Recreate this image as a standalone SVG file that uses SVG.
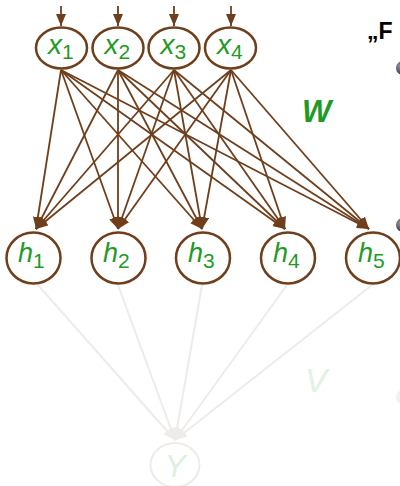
<svg xmlns="http://www.w3.org/2000/svg" width="400" height="486" viewBox="0 0 400 486">
<defs>
<style>
.node ellipse{fill:#fff;stroke:#6f3f1c;stroke-width:2.5}
.lbl{font-family:"Liberation Sans",Arial,sans-serif;fill:#1f9a24;font-style:italic}
.sub{font-style:normal}
.e{stroke:#6f3f1c;stroke-width:1.8;fill:none;marker-end:url(#ah)}
.v{stroke:#efebe8;stroke-width:2;fill:none;marker-end:url(#ahl)}
</style>
<marker id="ah" viewBox="0 0 12 10" refX="12" refY="5" markerWidth="12" markerHeight="10" markerUnits="userSpaceOnUse" orient="auto"><path d="M0,0 L12,5 L0,10 z" fill="#6f3f1c"/></marker>
<marker id="ahl" viewBox="0 0 12 10" refX="12" refY="5" markerWidth="12" markerHeight="10" markerUnits="userSpaceOnUse" orient="auto"><path d="M0,0 L12,5 L0,10 z" fill="#efebe8"/></marker>
<radialGradient id="bul" cx="0.35" cy="0.35" r="0.7"><stop offset="0" stop-color="#9a9aa8"/><stop offset="1" stop-color="#2e2e3c"/></radialGradient>
</defs>
<rect width="400" height="486" fill="#fff"/>
<g id="connectors">
<line class="e" x1="61" y1="6" x2="61" y2="26"/>
<line class="e" x1="118" y1="6" x2="118" y2="26"/>
<line class="e" x1="174" y1="6" x2="174" y2="26"/>
<line class="e" x1="231" y1="6" x2="231" y2="26"/>
<g id="W-edges">
<line class="e" x1="61" y1="70" x2="36" y2="229"/>
<line class="e" x1="61" y1="70" x2="118" y2="229"/>
<line class="e" x1="61" y1="70" x2="202" y2="229"/>
<line class="e" x1="61" y1="70" x2="285" y2="229"/>
<line class="e" x1="61" y1="70" x2="369" y2="229"/>
<line class="e" x1="118" y1="70" x2="36" y2="229"/>
<line class="e" x1="118" y1="70" x2="118" y2="229"/>
<line class="e" x1="118" y1="70" x2="202" y2="229"/>
<line class="e" x1="118" y1="70" x2="285" y2="229"/>
<line class="e" x1="118" y1="70" x2="369" y2="229"/>
<line class="e" x1="174" y1="70" x2="36" y2="229"/>
<line class="e" x1="174" y1="70" x2="118" y2="229"/>
<line class="e" x1="174" y1="70" x2="202" y2="229"/>
<line class="e" x1="174" y1="70" x2="285" y2="229"/>
<line class="e" x1="174" y1="70" x2="369" y2="229"/>
<line class="e" x1="231" y1="70" x2="36" y2="229"/>
<line class="e" x1="231" y1="70" x2="118" y2="229"/>
<line class="e" x1="231" y1="70" x2="202" y2="229"/>
<line class="e" x1="231" y1="70" x2="285" y2="229"/>
<line class="e" x1="231" y1="70" x2="369" y2="229"/>
</g>
<g id="V-edges">
<line class="v" x1="38" y1="285" x2="175" y2="440"/>
<line class="v" x1="118" y1="285" x2="175" y2="440"/>
<line class="v" x1="202" y1="285" x2="175" y2="440"/>
<line class="v" x1="287" y1="285" x2="175" y2="440"/>
<line class="v" x1="372" y1="285" x2="175" y2="440"/>
</g>
</g>
<g id="x1" class="node"><ellipse cx="61.5" cy="48" rx="25.5" ry="20.5"/><text class="lbl" x="48" y="54" font-size="28">x<tspan class="sub" font-size="21" dy="5">1</tspan></text></g>
<g id="x2" class="node"><ellipse cx="118" cy="48" rx="25.5" ry="20.5"/><text class="lbl" x="104.5" y="54" font-size="28">x<tspan class="sub" font-size="21" dy="5">2</tspan></text></g>
<g id="x3" class="node"><ellipse cx="174" cy="48" rx="25.5" ry="20.5"/><text class="lbl" x="160.5" y="54" font-size="28">x<tspan class="sub" font-size="21" dy="5">3</tspan></text></g>
<g id="x4" class="node"><ellipse cx="230.5" cy="48" rx="25.5" ry="20.5"/><text class="lbl" x="217" y="54" font-size="28">x<tspan class="sub" font-size="21" dy="5">4</tspan></text></g>
<g id="h1" class="node"><ellipse cx="33.5" cy="258" rx="27" ry="25.5"/><text class="lbl" x="18" y="262" font-size="27">h<tspan class="sub" font-size="21" dy="6">1</tspan></text></g>
<g id="h2" class="node"><ellipse cx="118.5" cy="258" rx="27" ry="25.5"/><text class="lbl" x="103" y="262" font-size="27">h<tspan class="sub" font-size="21" dy="6">2</tspan></text></g>
<g id="h3" class="node"><ellipse cx="203" cy="258" rx="27" ry="25.5"/><text class="lbl" x="188" y="262" font-size="27">h<tspan class="sub" font-size="21" dy="6">3</tspan></text></g>
<g id="h4" class="node"><ellipse cx="288" cy="258" rx="27" ry="25.5"/><text class="lbl" x="273" y="262" font-size="27">h<tspan class="sub" font-size="21" dy="6">4</tspan></text></g>
<g id="h5" class="node"><ellipse cx="373" cy="258" rx="27" ry="25.5"/><text class="lbl" x="358" y="262" font-size="27">h<tspan class="sub" font-size="21" dy="6">5</tspan></text></g>
<g id="Y"><ellipse cx="175" cy="465" rx="24.5" ry="22" fill="#fff" stroke="#efebe8" stroke-width="2"/><text x="175" y="477" font-size="31" text-anchor="middle" font-family="Liberation Sans,Arial,sans-serif" font-style="italic" fill="#dcf0de">Y</text></g>
<text id="W" x="302" y="122" font-size="31" font-weight="bold" font-style="italic" font-family="Liberation Sans,Arial,sans-serif" fill="#1f9a24">W</text>
<text id="V" x="305" y="392" font-size="33" font-style="italic" font-family="Liberation Sans,Arial,sans-serif" fill="#e2f2e3">V</text>
<text x="367" y="39" font-size="23" font-weight="bold" font-family="Liberation Sans,Arial,sans-serif" fill="#000">„F</text>
<circle cx="403" cy="68" r="7" fill="url(#bul)"/>
<circle cx="403" cy="225" r="7" fill="url(#bul)"/>
<circle cx="403" cy="397" r="7" fill="#f0f0f2"/>
</svg>
